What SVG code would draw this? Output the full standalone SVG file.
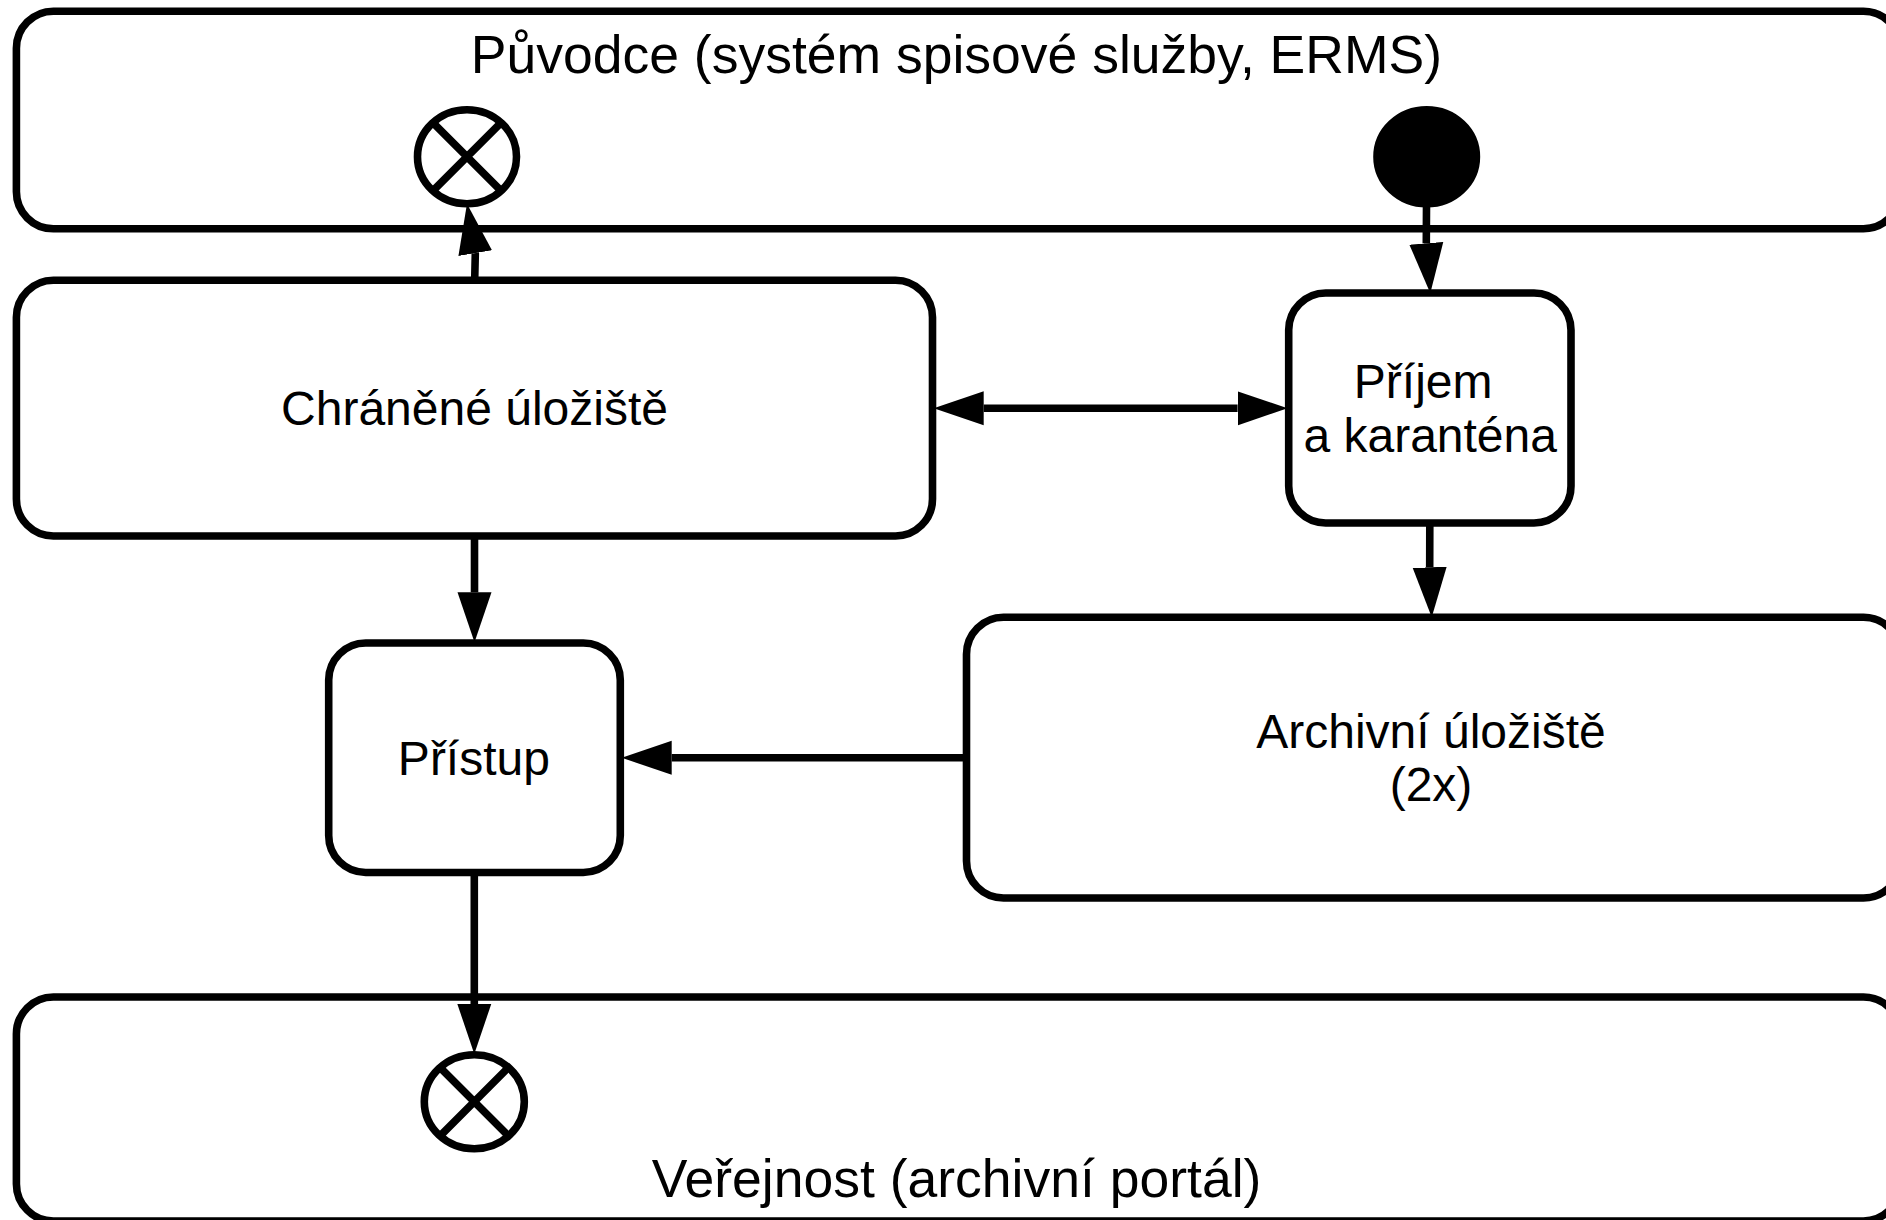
<svg xmlns="http://www.w3.org/2000/svg" width="1886" height="1220" viewBox="0 0 1886 1220">
  <style>
    .box { fill: #fff; stroke: #000; stroke-width: 7.6; }
    .conn { fill: none; stroke: #000; stroke-width: 7.6; marker-end: url(#arrow); }
    .term { fill: #fff; stroke: #000; stroke-width: 7.6; }
    .cross { stroke: #000; stroke-width: 7.6; fill: none; }
    .start { fill: #000; stroke: #000; stroke-width: 7.6; }
    text { font-family: "Liberation Sans", Arial, sans-serif; fill: #000; text-anchor: middle; }
    .lg { font-size: 53.5px; }
    .md { font-size: 48px; }
  </style>
  <defs>
    <marker id="arrow" markerUnits="userSpaceOnUse" markerWidth="52" markerHeight="36" refX="0" refY="18" orient="auto">
      <path d="M0 1L50 18L0 35Z" fill="#000"/>
    </marker>
  </defs>
  <g id="originator">
    <rect class="box" x="16.4" y="11.2" width="1884" height="217.6" rx="37" ry="37"/>
    <text class="lg" x="956.4" y="72.7">Původce (systém spisové služby, ERMS)</text>
  </g>
  <g id="end-originator">
    <ellipse class="term" cx="467" cy="156.7" rx="49.5" ry="47"/>
    <path class="cross" d="M433 122.7L501 190.7M433 190.7L501 122.7"/>
  </g>
  <g id="start">
    <ellipse class="start" cx="1426.7" cy="156.7" rx="49.7" ry="47"/>
  </g>
  <g id="protected-storage">
    <rect class="box" x="16.4" y="280.3" width="916.1" height="255.7" rx="37" ry="37"/>
    <text class="md" x="474.5" y="425.2">Chráněné úložiště</text>
  </g>
  <g id="ingest">
    <rect class="box" x="1288.7" y="293" width="282.3" height="230" rx="37" ry="37"/>
    <text class="md" x="1423.2" y="398">Příjem</text>
    <text class="md" x="1430.2" y="452">a karanténa</text>
  </g>
  <g id="archive-storage">
    <rect class="box" x="966.5" y="617.3" width="934" height="280.7" rx="37" ry="37"/>
    <text class="md" x="1431" y="748">Archivní úložiště</text>
    <text class="md" x="1431" y="801">(2x)</text>
  </g>
  <g id="access">
    <rect class="box" x="328.7" y="643" width="291.6" height="229.5" rx="37" ry="37"/>
    <text class="md" x="473.9" y="775">Přístup</text>
  </g>
  <g id="public">
    <rect class="box" x="16.4" y="997" width="1884" height="224" rx="37" ry="37"/>
    <text class="lg" x="956.6" y="1196.8">Veřejnost (archivní portál)</text>
  </g>
  <g id="end-public">
    <ellipse class="term" cx="474.3" cy="1101.7" rx="50" ry="47"/>
    <path class="cross" d="M440.3 1067.7L508.3 1135.7M440.3 1135.7L508.3 1067.7"/>
  </g>
  <g id="connectors">
    <path class="conn" d="M474.7 280L475.3 253.7L475.2 253.1"/>
    <path class="conn" d="M1426.5 205L1426.3 242.8L1426.34 243.3"/>
    <path class="conn" d="M1429.8 523L1429.7 566.8L1429.72 567.3"/>
    <path class="conn" d="M1110 408.3H983.7"/>
    <path class="conn" d="M1110 408.3H1237.6"/>
    <path class="conn" d="M474.5 536V592.3"/>
    <path class="conn" d="M966.5 757.8H671.7"/>
    <path class="conn" d="M474.3 872.5V1003.9"/>
  </g>
</svg>
